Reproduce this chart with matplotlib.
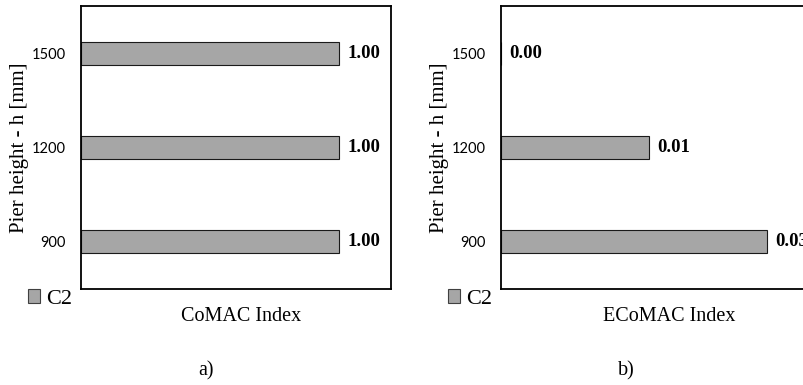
import matplotlib
matplotlib.use("Agg")
import matplotlib.pyplot as plt
from matplotlib.patches import Patch

# Data
heights = ["900", "1200", "1500"]
comac = [1.00, 1.00, 1.00]
ecomac = [0.0257, 0.0143, 0.0]
series_name = "C2"

SERIF = "Liberation Serif"
TICK_FONT = "Lato"
BAR_FACE = "#a6a6a6"
BAR_EDGE = "#1a1a1a"

W, H = 804, 385
fig = plt.figure(figsize=(W / 100, H / 100), dpi=100)


def px_box(left, top, width, height):
    return [left / W, 1 - (top + height) / H, width / W, height / H]


def panel(ax_left, values, xmax, xlabel, tag, tag_x, leg_x):
    ax = fig.add_axes(px_box(ax_left, 6, 310, 283))
    pos = range(len(heights))
    bars = ax.barh(pos, values, height=0.245, color=BAR_FACE,
                   edgecolor=BAR_EDGE, linewidth=0.8)
    ax.bar_label(bars, labels=[f"{v:.2f}" for v in values], padding=6,
                 fontfamily=SERIF, fontweight="bold", fontsize=13.5)
    ax.set_xlim(0, xmax)
    ax.set_ylim(-0.5, len(heights) - 0.5)
    ax.set_yticks(list(pos))
    ax.set_yticklabels(heights, fontfamily=TICK_FONT, fontsize=10.5)
    ax.set_xticks([])
    ax.tick_params(axis="y", length=0, pad=11)
    for sp in ax.spines.values():
        sp.set_linewidth(1.3)
        sp.set_color("black")

    ax.set_ylabel("Pier height - h [mm]", fontfamily=SERIF, fontsize=15,
                  rotation=90, va="center", ha="center")
    ax.yaxis.set_label_coords(-0.197, 0.5)
    ax.set_xlabel(xlabel, fontfamily=SERIF, fontsize=14.5, va="baseline")
    ax.xaxis.set_label_coords(
        ((tag_x[0]) - ax_left) / 310, (289 - 321) / 283)

    handle = Patch(facecolor=BAR_FACE, edgecolor="#404040", linewidth=0.8)
    fig.legend([handle], [series_name], loc="center left",
               bbox_to_anchor=(leg_x / W, 1 - 299 / H), frameon=False,
               borderpad=0, borderaxespad=0, handlelength=0.55,
               handleheight=0.55, handletextpad=0.28,
               prop={"family": SERIF, "size": 16})

    fig.text(tag_x[1] / W, 1 - 371 / H, tag, fontfamily=SERIF,
             fontsize=14.5, ha="center", va="center")
    return ax


panel(81, comac, 1.2, "CoMAC Index", "a)", (240.8, 206), 28)
panel(501, ecomac, 0.03, "ECoMAC Index", "b)", (669, 626.5), 448)

fig.savefig("out.png", dpi=100)
